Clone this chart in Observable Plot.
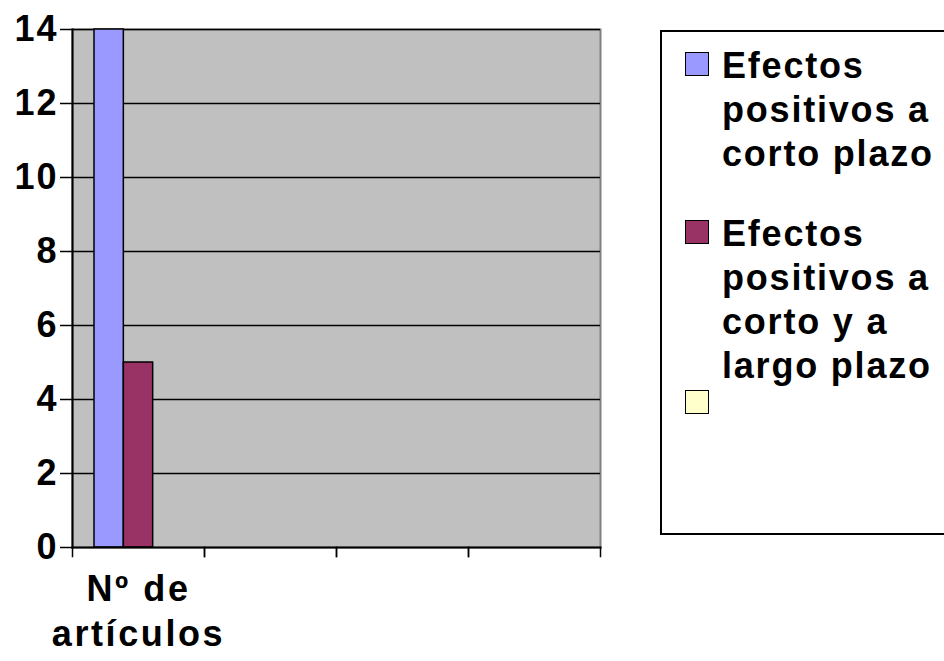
<!DOCTYPE html>
<html><head><meta charset="utf-8">
<script src="https://cdn.jsdelivr.net/npm/d3@7"></script>
<script src="https://cdn.jsdelivr.net/npm/@observablehq/plot@0.6"></script>
<style>
body{margin:0;background:#fff;font-family:"Liberation Sans",Arial,sans-serif;}
#wrap{position:relative;width:944px;height:661px;overflow:hidden;}
#legend{position:absolute;left:660px;top:30px;width:320px;height:505px;border:2px solid #000;box-sizing:border-box;background:#fff;}
.item{position:absolute;left:0;font-weight:bold;font-size:36px;line-height:44px;letter-spacing:1.8px;color:#000;}
.sw{position:absolute;left:23px;top:8px;width:22px;height:22px;border:1.5px solid #000;}
.lab{position:absolute;left:60px;top:0;width:260px;white-space:pre;}
g[aria-label="y-axis tick label"] text{letter-spacing:2px;}
g[aria-label="text"] text{letter-spacing:2.6px;}
</style></head>
<body><div id="wrap"><div id="chart"></div><div id="legend"></div></div>
<script>
const categoryLabels = ["Nº de artículos", "", "", ""];
const categoryIndex = [0, 1, 2, 3];
const series = ["Efectos positivos a corto plazo", "Efectos positivos a corto y a largo plazo", ""];
const legendLines = ["Efectos\npositivos a\ncorto plazo", "Efectos\npositivos a\ncorto y a\nlargo plazo", ""];
const values = [14, 5, 0];
const colors = ["#9999ff", "#993366", "#ffffcc"];
const yTicks = [0, 2, 4, 6, 8, 10, 12, 14];

const data = series.map((s, i) => ({cat: 0, series: s, value: values[i]}));

const W = 944, H = 661, mT = 29, mL = 70, mR = 343, mB = 114;
const innerH = H - mT - mB;
const font = "'Liberation Sans', Arial, sans-serif";

const chart = Plot.plot({
  width: W, height: H,
  marginTop: mT, marginLeft: mL, marginRight: mR, marginBottom: mB,
  style: {fontFamily: font, background: "#fff", overflow: "visible"},
  fx: {domain: categoryIndex, padding: 0, axis: null},
  x: {domain: series, paddingInner: 0, paddingOuter: 0.75, round: false, axis: null},
  y: {domain: [0, 14], axis: null},
  color: {domain: series, range: colors},
  marks: [
    Plot.frame({facet: "super", fill: "#c0c0c0", stroke: "#808080", strokeWidth: 2}),
    Plot.ruleY(yTicks.filter(d => d > 0), {stroke: "#000", strokeWidth: 1.5}),
    Plot.barY(data, {fx: "cat", x: "series", y: "value", fill: "series", stroke: "#000", strokeWidth: 1.5}),
    Plot.frame({facet: "super", anchor: "left", stroke: "#000", strokeWidth: 2}),
    Plot.frame({facet: "super", anchor: "bottom", stroke: "#000", strokeWidth: 2}),
    Plot.frame({anchor: "left", stroke: "#000", strokeWidth: 1.5, insetTop: innerH, insetBottom: -9}),
    Plot.frame({anchor: "right", stroke: "#000", strokeWidth: 1.5, insetTop: innerH, insetBottom: -9}),
    Plot.axisY({ticks: yTicks, tickSize: 12, tickPadding: 2, tickFormat: d => String(d),
      fontSize: 36, fontWeight: "bold", fill: "#000", stroke: "#000", strokeWidth: 1.5, label: null}),
    Plot.text(categoryIndex, {fx: d => d, text: d => categoryLabels[d], frameAnchor: "bottom",
      lineAnchor: "top", dy: 22, lineWidth: 5, lineHeight: 1.25, fontSize: 36, fontWeight: "bold", fill: "#000"})
  ]
});
document.getElementById("chart").appendChild(chart);

const legend = document.getElementById("legend");
const tops = [11.5, 180, 350];
series.forEach((s, i) => {
  const item = document.createElement("div");
  item.className = "item";
  item.style.top = tops[i] + "px";
  item.style.width = "300px";
  item.style.height = "44px";
  const sw = document.createElement("div");
  sw.className = "sw";
  sw.style.background = colors[i];
  const lab = document.createElement("div");
  lab.className = "lab";
  lab.textContent = legendLines[i];
  item.appendChild(sw);
  item.appendChild(lab);
  legend.appendChild(item);
});
</script></body></html>
